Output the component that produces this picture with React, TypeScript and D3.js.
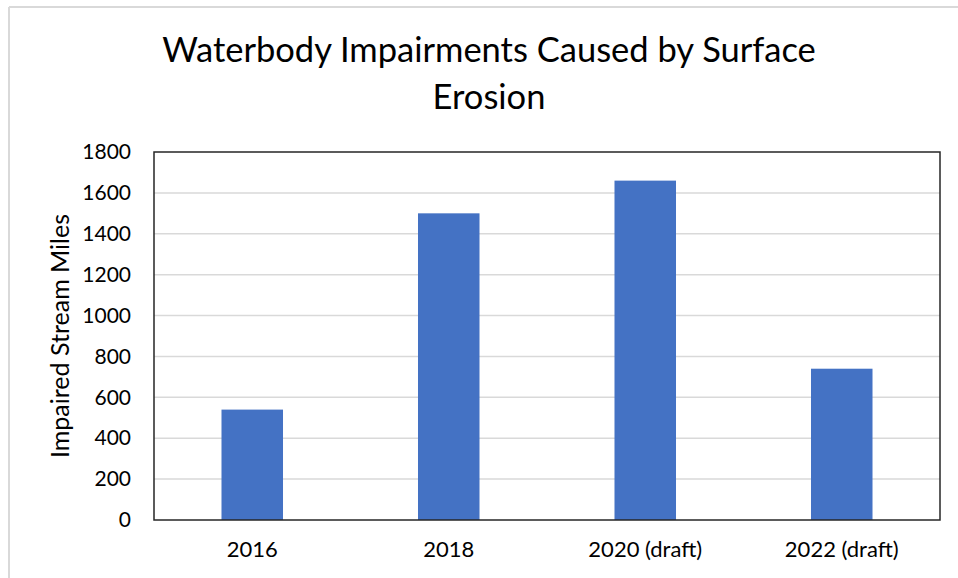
import React, { useEffect, useRef } from 'react'
import * as d3 from 'd3'

const categories = ['2016', '2018', '2020 (draft)', '2022 (draft)']
const miles = [540, 1500, 1660, 740]
const yTicks = [0, 200, 400, 600, 800, 1000, 1200, 1400, 1600, 1800]

const titleLines = ['Waterbody Impairments Caused by Surface', 'Erosion']
const yLabel = 'Impaired Stream Miles'

const W = 958
const H = 578
const font = 'Lato, Carlito, Calibri, "Open Sans", sans-serif'

export default function App() {
    const ref = useRef<SVGSVGElement>(null)

    useEffect(() => {
        const svg = d3.select(ref.current)
        svg.selectAll('*').remove()

        const margin = { top: 152, right: 18, bottom: 58, left: 154 }
        const innerW = W - margin.left - margin.right
        const innerH = H - margin.top - margin.bottom

        // outer frame (only top and left edges are visible)
        svg.append('line')
            .attr('x1', 9).attr('x2', W).attr('y1', 7).attr('y2', 7)
            .attr('stroke', '#d9d9d9').attr('stroke-width', 2)
        svg.append('line')
            .attr('x1', 9).attr('x2', 9).attr('y1', 7).attr('y2', H)
            .attr('stroke', '#d9d9d9').attr('stroke-width', 2)

        // title
        svg.append('text')
            .attr('x', 489)
            .attr('text-anchor', 'middle')
            .style('font-family', font)
            .style('font-size', '34.5px')
            .attr('fill', '#000')
            .selectAll('tspan')
            .data(titleLines)
            .enter()
            .append('tspan')
            .attr('x', 489)
            .attr('y', (d, i) => 62 + i * 47)
            .text(d => d)

        const g = svg.append('g')
            .attr('transform', `translate(${margin.left},${margin.top})`)

        const x = d3.scaleBand<string>()
            .domain(categories)
            .range([0, innerW])
            .paddingInner(0.687)
            .paddingOuter(0.3435)

        const y = d3.scaleLinear()
            .domain([0, 1800])
            .range([innerH, 0])

        // gridlines
        g.selectAll('.grid')
            .data(yTicks.filter(t => t > 0 && t < 1800))
            .enter()
            .append('line')
            .attr('x1', 0).attr('x2', innerW)
            .attr('y1', d => y(d)).attr('y2', d => y(d))
            .attr('stroke', '#d9d9d9')
            .attr('stroke-width', 1.5)

        // bars
        g.selectAll('.bar')
            .data(miles)
            .enter()
            .append('rect')
            .attr('x', (d, i) => x(categories[i]) as number)
            .attr('y', d => y(d))
            .attr('width', x.bandwidth())
            .attr('height', d => innerH - y(d))
            .attr('fill', '#4472c4')

        // plot frame
        g.append('rect')
            .attr('x', 0).attr('y', 0)
            .attr('width', innerW).attr('height', innerH)
            .attr('fill', 'none')
            .attr('stroke', '#262626')
            .attr('stroke-width', 1.5)

        // y axis
        const yAxis = g.append('g')
            .call(d3.axisLeft(y).tickValues(yTicks).tickSize(0).tickPadding(23).tickFormat(d3.format('d')))
        yAxis.select('.domain').remove()
        yAxis.selectAll('text')
            .style('font-family', font)
            .style('font-size', '21px')
            .attr('fill', '#000')

        // x axis
        const xAxis = g.append('g')
            .attr('transform', `translate(0,${innerH})`)
            .call(d3.axisBottom(x).tickSize(0).tickPadding(21))
        xAxis.select('.domain').remove()
        xAxis.selectAll('text')
            .style('font-family', font)
            .style('font-size', '22px')
            .attr('fill', '#000')

        // y axis title
        svg.append('text')
            .attr('transform', `translate(69,${margin.top + innerH / 2}) rotate(-90)`)
            .attr('text-anchor', 'middle')
            .style('font-family', font)
            .style('font-size', '25px')
            .attr('fill', '#000')
            .text(yLabel)
    }, [])

    return (
        <svg ref={ref} width={W} height={H}
            style={{ position: 'absolute', left: 0, top: 0, background: '#fff' }} />
    )
}
